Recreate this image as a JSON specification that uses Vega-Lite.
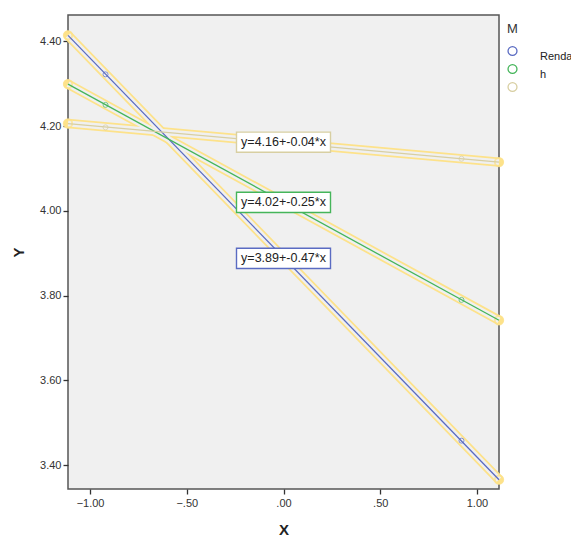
{
  "$schema": "https://vega.github.io/schema/vega-lite/v6.json",
  "autosize": "none",
  "padding": {"left": 68, "top": 15, "right": 72, "bottom": 50},
  "width": 431,
  "height": 474,
  "background": "white",
  "config": {
    "view": {"fill": "#F0F0F0", "stroke": "#555555", "strokeWidth": 1.5},
    "font": "Liberation Sans",
    "axis": {
      "grid": false, "domain": false, "tickColor": "#333333", "tickSize": 5, "tickWidth": 1.3,
      "labelFont": "Liberation Sans", "labelFontSize": 11, "labelColor": "#333333",
      "titleFont": "Liberation Sans", "titleFontSize": 15, "titleFontWeight": "bold", "titleColor": "#222222"
    }
  },
  "datasets": {
    "lines": [
      {"M": "1", "x": -1.114, "y": 4.414},
      {"M": "1", "x": 1.114, "y": 3.366},
      {"M": "2", "x": -1.114, "y": 4.299},
      {"M": "2", "x": 1.114, "y": 3.742},
      {"M": "3", "x": -1.114, "y": 4.206},
      {"M": "3", "x": 1.114, "y": 4.115}
    ],
    "points": [
      {"M": "1", "x": -0.92, "y": 4.322},
      {"M": "1", "x": 0.92, "y": 3.458},
      {"M": "2", "x": -0.92, "y": 4.25},
      {"M": "2", "x": 0.92, "y": 3.79},
      {"M": "3", "x": -0.92, "y": 4.197},
      {"M": "3", "x": 0.92, "y": 4.123}
    ],
    "labels": [
      {"M": "1", "x": 0, "y": 3.888, "text": "y=3.89+-0.47*x"},
      {"M": "2", "x": 0, "y": 4.02, "text": "y=4.02+-0.25*x"},
      {"M": "3", "x": 0, "y": 4.162, "text": "y=4.16+-0.04*x"}
    ]
  },
  "encoding": {
    "x": {"field": "x", "type": "quantitative", "title": "X",
      "scale": {"domain": [-1.114, 1.114], "nice": false, "zero": false},
      "axis": {"values": [-1, -0.5, 0, 0.5, 1], "labelExpr": "replace(format(datum.value, '.2f'), '0.', '.')", "titlePadding": 14, "labelPadding": 3}},
    "y": {"field": "y", "type": "quantitative", "title": "Y",
      "scale": {"domain": [3.344, 4.462], "nice": false, "zero": false},
      "axis": {"values": [3.4, 3.6, 3.8, 4.0, 4.2, 4.4], "format": ".2f", "titlePadding": 13, "labelPadding": 2}}
  },
  "layer": [
    {
      "data": {"name": "lines"},
      "mark": {"type": "line", "strokeWidth": 9.5, "color": "#FDE28A", "clip": false, "strokeCap": "round"},
      "encoding": {"detail": {"field": "M"}}
    },
    {
      "data": {"name": "lines"},
      "mark": {"type": "line", "strokeWidth": 6, "color": "#F0F0F0", "clip": false},
      "encoding": {"detail": {"field": "M"}}
    },
    {
      "data": {"name": "lines"},
      "mark": {"type": "point", "filled": false, "stroke": "#FDE28A", "strokeWidth": 2, "size": 70, "clip": false}
    },
    {
      "data": {"name": "lines"},
      "mark": {"type": "line", "strokeWidth": 1.3, "clip": false},
      "encoding": {
        "color": {"field": "M", "type": "nominal",
          "scale": {"domain": ["1", "2", "3"], "range": ["#5A6BC2", "#45B55A", "#D8CFA2"]},
          "legend": {
            "title": "M", "orient": "none", "legendX": 439, "legendY": 8, "direction": "vertical",
            "titleFont": "Liberation Sans", "titleFontSize": 13, "titleFontWeight": "normal", "titleColor": "#333333", "titlePadding": 8,
            "symbolType": "circle", "symbolFillColor": "transparent", "symbolStrokeWidth": 1.3, "symbolSize": 80,
            "labelExpr": "datum.value == '1' ? 'Renda' : datum.value == '2' ? 'h' : ''",
            "labelBaseline": "top", "labelOffset": 22, "labelFontSize": 11, "labelColor": "#222222", "rowPadding": -4.5, "clipHeight": 14
          }
        }
      }
    },
    {
      "data": {"name": "points"},
      "mark": {"type": "point", "filled": false, "strokeWidth": 1, "size": 25},
      "encoding": {"color": {"field": "M", "type": "nominal", "legend": null}}
    },
    {
      "data": {"name": "labels"},
      "mark": {"type": "point", "shape": "M-1,-0.215H1V0.215H-1Z", "size": 8836, "filled": true, "fill": "white", "fillOpacity": 1, "strokeWidth": 1.4},
      "encoding": {"stroke": {"field": "M", "type": "nominal", "scale": {"domain": ["1", "2", "3"], "range": ["#5A6BC2", "#45B55A", "#D8CFA2"]}, "legend": null}}
    },
    {
      "data": {"name": "labels"},
      "mark": {"type": "text", "fontSize": 12.5, "font": "Liberation Sans", "color": "#222222", "align": "center", "baseline": "middle"},
      "encoding": {"text": {"field": "text"}}
    }
  ]
}
